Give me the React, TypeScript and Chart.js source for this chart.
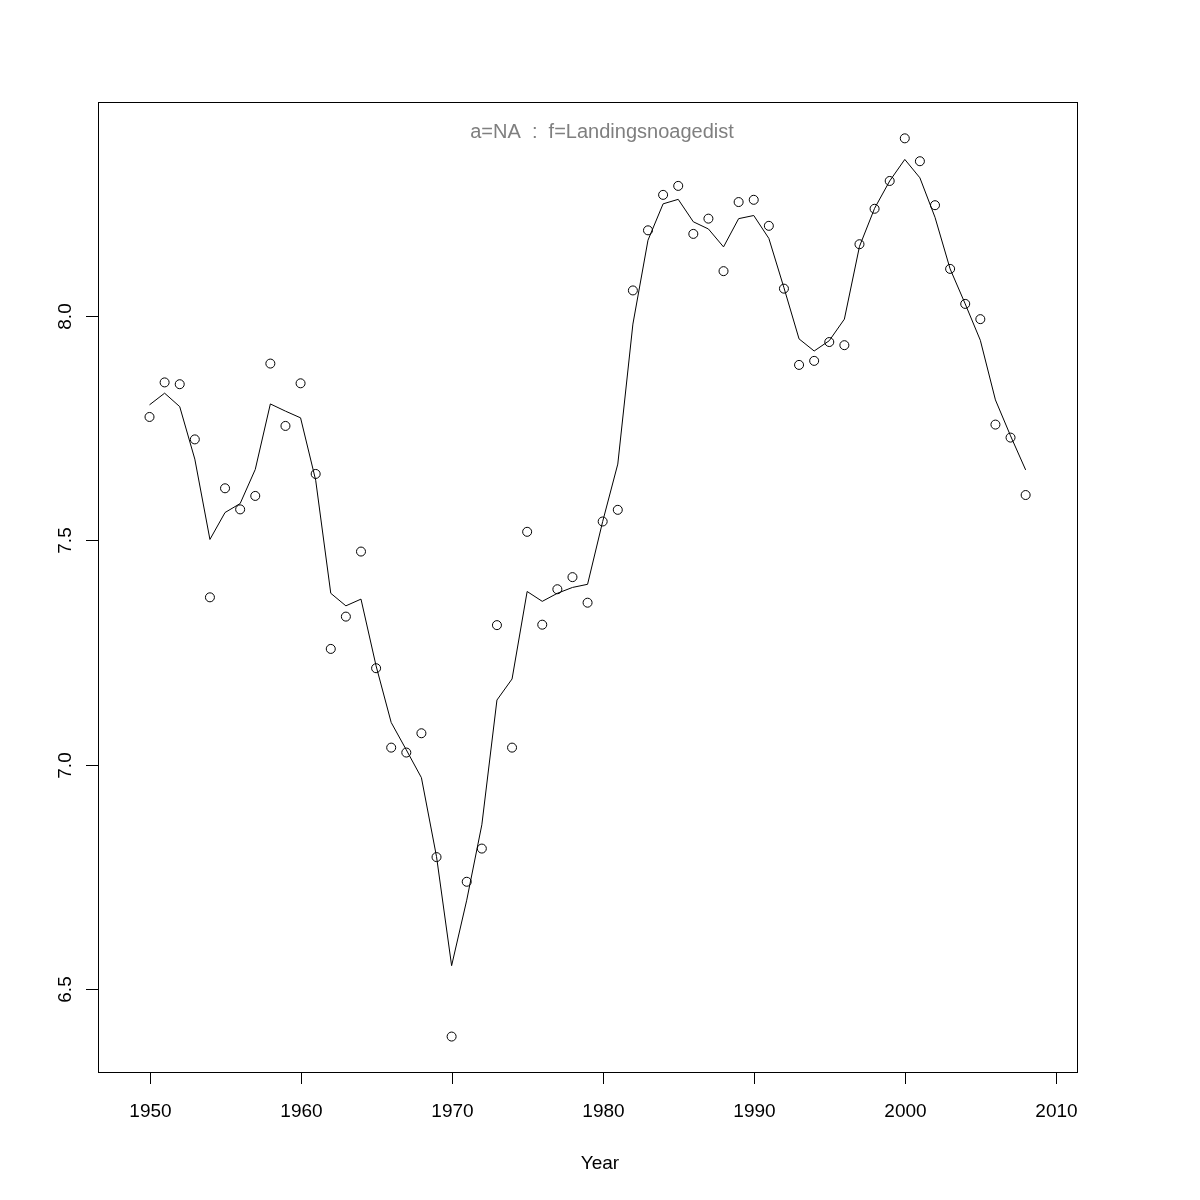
import React, { useEffect, useRef } from "react";
import { Chart, registerables } from "chart.js";

Chart.register(...registerables);

const years = [
  1950, 1951, 1952, 1953, 1954, 1955, 1956, 1957, 1958, 1959,
  1960, 1961, 1962, 1963, 1964, 1965, 1966, 1967, 1968, 1969,
  1970, 1971, 1972, 1973, 1974, 1975, 1976, 1977, 1978, 1979,
  1980, 1981, 1982, 1983, 1984, 1985, 1986, 1987, 1988, 1989,
  1990, 1991, 1992, 1993, 1994, 1995, 1996, 1997, 1998, 1999,
  2000, 2001, 2002, 2003, 2004, 2005, 2006, 2007, 2008,
];

const observed = [
  7.775, 7.852, 7.848, 7.725, 7.373, 7.616, 7.569, 7.599, 7.894, 7.755,
  7.850, 7.648, 7.258, 7.330, 7.475, 7.215, 7.038, 7.027, 7.070, 6.794,
  6.394, 6.739, 6.813, 7.311, 7.038, 7.519, 7.312, 7.391, 7.418, 7.361,
  7.542, 7.568, 8.057, 8.191, 8.270, 8.290, 8.183, 8.217, 8.100, 8.254,
  8.259, 8.201, 8.061, 7.891, 7.900, 7.942, 7.935, 8.160, 8.239, 8.301,
  8.396, 8.345, 8.247, 8.105, 8.027, 7.993, 7.758, 7.729, 7.601,
];

const fitted = [
  7.802, 7.828, 7.798, 7.681, 7.502, 7.562, 7.582, 7.658, 7.804, 7.788,
  7.773, 7.634, 7.382, 7.354, 7.369, 7.220, 7.094, 7.033, 6.971, 6.795,
  6.552, 6.698, 6.866, 7.144, 7.191, 7.386, 7.364, 7.382, 7.395, 7.402,
  7.542, 7.670, 7.982, 8.169, 8.250, 8.260, 8.210, 8.194, 8.154, 8.217,
  8.224, 8.173, 8.063, 7.949, 7.922, 7.945, 7.993, 8.155, 8.240, 8.301,
  8.349, 8.308, 8.220, 8.105, 8.027, 7.946, 7.813, 7.733, 7.657,
];

const xTicks = [1950, 1960, 1970, 1980, 1990, 2000, 2010];
const yTicks = [6.5, 7.0, 7.5, 8.0];
const yTickLabels = ["6.5", "7.0", "7.5", "8.0"];
const titleText = "a=NA  :  f=Landingsnoagedist";
const xLabel = "Year";

const X_MIN = 1946.59;
const X_MAX = 2011.4;
const Y_MIN = 6.315;
const Y_MAX = 8.477;

const FONT = "'Liberation Sans', Arial, Helvetica, sans-serif";

export default function App() {
  const ref = useRef<HTMLCanvasElement>(null);

  useEffect(() => {
    const canvas = ref.current;
    if (!canvas) return;

    const axesPlugin = {
      id: "rStyleAxes",
      afterDraw(chart: any) {
        const ctx = chart.ctx as CanvasRenderingContext2D;
        const { left, right, top, bottom } = chart.chartArea;
        const xs = chart.scales.x;
        const ys = chart.scales.y;
        ctx.save();
        ctx.strokeStyle = "#000";
        ctx.fillStyle = "#000";
        ctx.lineWidth = 1;

        // box
        ctx.strokeRect(left + 0.5, top + 0.5, right - left, bottom - top);

        // x axis
        const xp = xTicks.map((v) => Math.round(xs.getPixelForValue(v)) + 0.5);
        ctx.beginPath();
        ctx.moveTo(xp[0], bottom + 0.5);
        ctx.lineTo(xp[xp.length - 1], bottom + 0.5);
        xp.forEach((p) => {
          ctx.moveTo(p, bottom);
          ctx.lineTo(p, bottom + 12);
        });
        ctx.stroke();
        ctx.font = `19px ${FONT}`;
        ctx.textAlign = "center";
        ctx.textBaseline = "alphabetic";
        xTicks.forEach((v, i) => {
          ctx.fillText(String(v), xp[i], bottom + 44.5);
        });

        // y axis
        const yp = yTicks.map((v) => Math.round(ys.getPixelForValue(v)) + 0.5);
        ctx.beginPath();
        ctx.moveTo(left + 0.5, yp[0]);
        ctx.lineTo(left + 0.5, yp[yp.length - 1]);
        yp.forEach((p) => {
          ctx.moveTo(left, p);
          ctx.lineTo(left - 12, p);
        });
        ctx.stroke();
        yTicks.forEach((_, i) => {
          ctx.save();
          ctx.translate(left - 27.5, yp[i]);
          ctx.rotate(-Math.PI / 2);
          ctx.textAlign = "center";
          ctx.textBaseline = "alphabetic";
          ctx.fillText(yTickLabels[i], 0, 0);
          ctx.restore();
        });

        // x label
        ctx.fillText(xLabel, 600, 1169);

        // title
        ctx.fillStyle = "#7f7f7f";
        ctx.font = `20px ${FONT}`;
        ctx.fillText(titleText, 602, 138);

        ctx.restore();
      },
    };

    const chart = new Chart(canvas, {
      type: "line",
      data: {
        datasets: [
          {
            label: "fitted",
            data: years.map((yr, i) => ({ x: yr, y: fitted[i] })),
            borderColor: "#000",
            borderWidth: 1,
            pointRadius: 0,
            tension: 0,
            fill: false,
          },
          {
            label: "observed",
            data: years.map((yr, i) => ({ x: yr, y: observed[i] })),
            showLine: false,
            pointRadius: 4.5,
            pointBorderWidth: 1,
            pointBorderColor: "#000",
            pointBackgroundColor: "rgba(0,0,0,0)",
            borderColor: "#000",
            backgroundColor: "rgba(0,0,0,0)",
          },
        ],
      },
      options: {
        responsive: false,
        animation: false,
        events: [],
        layout: { padding: { left: 98, right: 123, top: 102, bottom: 128 } },
        scales: {
          x: { type: "linear", min: X_MIN, max: X_MAX, display: false },
          y: { type: "linear", min: Y_MIN, max: Y_MAX, display: false },
        },
        plugins: {
          legend: { display: false },
          tooltip: { enabled: false },
          title: { display: false },
        },
      },
      plugins: [axesPlugin],
    } as any);

    return () => chart.destroy();
  }, []);

  return (
    <div
      style={{
        position: "absolute",
        left: 0,
        top: 0,
        width: 1200,
        height: 1200,
        background: "#fff",
      }}
    >
      <canvas ref={ref} width={1200} height={1200} style={{ display: "block" }} />
    </div>
  );
}
